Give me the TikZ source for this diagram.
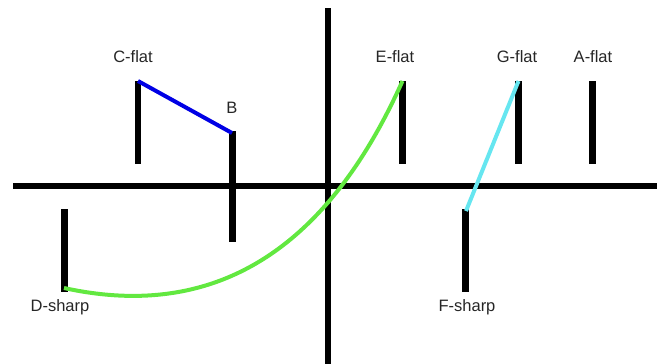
\documentclass[tikz,border=0pt]{standalone}
\usepackage{fontspec}
\setmainfont{Liberation Sans}
\begin{document}
\begin{tikzpicture}[x=1pt,y=-1pt,
  axis/.style={line width=6pt,black},
  bar/.style={line width=6.5pt,black},
  lbl/.style={font=\fontsize{16.5}{18}\selectfont,text=black!85,inner sep=0pt},
  link/.style={line width=4pt}]
\useasboundingbox (0,0) rectangle (657,364);
% axes
\coordinate (hl) at (13,186); \coordinate (hr) at (657,186);
\coordinate (vt) at (328,8); \coordinate (vb) at (328,364);
\draw[axis] (hl) -- (hr);
\draw[axis] (vt) -- (vb);
% bars
\coordinate (cft) at (138,81); \coordinate (cfb) at (138,164);
\coordinate (bt) at (232.5,131); \coordinate (bb) at (232.5,242);
\coordinate (dst) at (64.5,209); \coordinate (dsb) at (64.5,292);
\coordinate (eft) at (402.5,81); \coordinate (efb) at (402.5,164);
\coordinate (gft) at (518.5,81); \coordinate (gfb) at (518.5,164);
\coordinate (aft) at (592.5,81); \coordinate (afb) at (592.5,164);
\coordinate (fst) at (465.5,209); \coordinate (fsb) at (465.5,292);
\foreach \a/\b in {cft/cfb,bt/bb,dst/dsb,eft/efb,gft/gfb,aft/afb,fst/fsb}
  \draw[bar] (\a) -- (\b);
% labels
\node[lbl] (lcf) at (133,57) {C-flat};
\node[lbl] (lb) at (232,108) {B};
\node[lbl] (lds) at (60,307) {D-sharp};
\node[lbl] (lef) at (395,57) {E-flat};
\node[lbl] (lgf) at (517,57) {G-flat};
\node[lbl] (laf) at (593,57) {A-flat};
\node[lbl] (lfs) at (467,307) {F-sharp};
% links
\coordinate (bj) at (232,133);
\coordinate (dsj) at (64,288);
\coordinate (fsj) at (466,211);
\draw[link,blue!90!black] (cft) -- (bj);
\draw[link,color={rgb,255:red,98;green,232;blue,64}] (dsj) .. controls (213.3,320.7) and (326,251.7) .. (eft);
\draw[link,color={rgb,255:red,102;green,230;blue,240}] (gft) -- (fsj);
\end{tikzpicture}
\end{document}
